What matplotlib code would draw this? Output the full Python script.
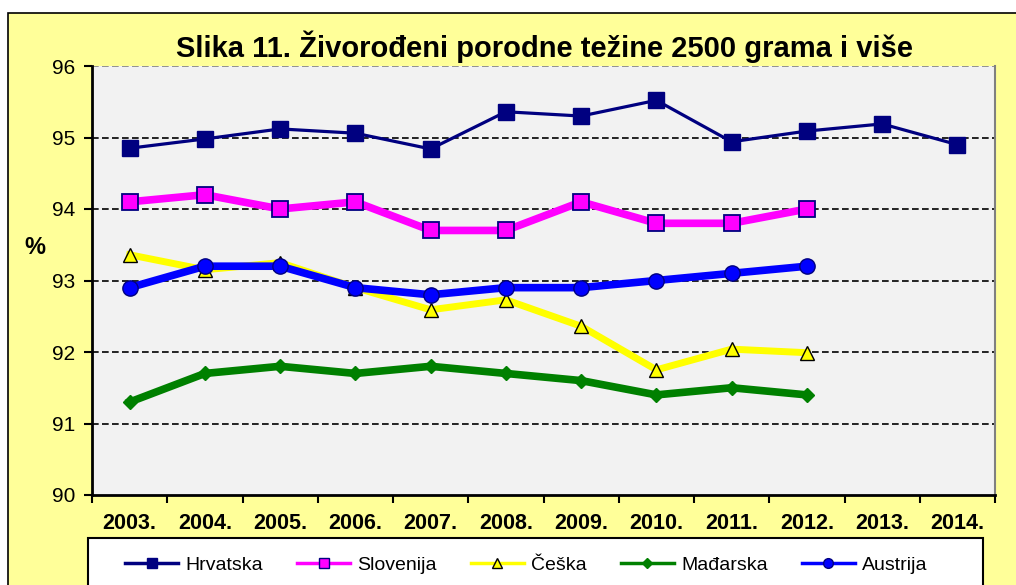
import matplotlib
matplotlib.use("Agg")
import matplotlib.pyplot as plt
from matplotlib.lines import Line2D
from matplotlib.patches import Rectangle
import numpy as np

plt.rcParams['font.family'] = ['Liberation Sans', 'DejaVu Sans']

years = ['2003.', '2004.', '2005.', '2006.', '2007.', '2008.', '2009.', '2010.', '2011.', '2012.', '2013.', '2014.']
hrvatska = [94.85, 94.98, 95.12, 95.06, 94.84, 95.36, 95.30, 95.52, 94.94, 95.09, 95.19, 94.90]
slovenija = [94.1, 94.2, 94.0, 94.1, 93.7, 93.7, 94.1, 93.8, 93.8, 94.0]
ceska = [93.36, 93.15, 93.25, 92.9, 92.59, 92.73, 92.36, 91.75, 92.04, 91.99]
madarska = [91.3, 91.7, 91.8, 91.7, 91.8, 91.7, 91.6, 91.4, 91.5, 91.4]
austrija = [92.9, 93.2, 93.2, 92.9, 92.8, 92.9, 92.9, 93.0, 93.1, 93.2]
yticks = [90, 91, 92, 93, 94, 95, 96]
labels = ['Hrvatska', 'Slovenija', 'Češka', 'Mađarska', 'Austrija']
title = 'Slika 11. Živorođeni porodne težine 2500 grama i više'

W, H = 1016, 585
fig = plt.figure(figsize=(W / 100, H / 100), dpi=100)
fig.patch.set_facecolor('white')

# background (chart area) axes
bg = fig.add_axes([0, 0, 1, 1], zorder=-5)
bg.set_xlim(0, W)
bg.set_ylim(H, 0)
bg.axis('off')
bg.add_patch(Rectangle((8, 13), W + 20, H + 20, facecolor='#FFFF99', edgecolor='black', lw=1.2))
bg.add_patch(Rectangle((88, 538), 983 - 88, H + 20 - 538, facecolor='white', edgecolor='black', lw=1.5))

ax = fig.add_axes([92 / W, 1 - 495 / H, (995 - 92) / W, (495 - 66) / H], zorder=1)
ax.set_facecolor('#F2F2F2')

x = np.arange(len(years))
ax.plot(x[:len(hrvatska)], hrvatska, color='#000080', lw=2.3, marker='s', ms=11,
        mfc='#000080', mec='#000080', zorder=3)
ax.plot(x[:len(slovenija)], slovenija, color='#FF00FF', lw=5.5, marker='s', ms=11,
        mfc='#FF00FF', mec='#000080', mew=1.3, zorder=3)
ax.plot(x[:len(ceska)], ceska, color='#FFFF00', lw=5.0, marker='^', ms=10,
        mfc='#FFFF00', mec='black', mew=1.0, zorder=3)
ax.plot(x[:len(madarska)], madarska, color='#008000', lw=5.5, marker='D', ms=7,
        mfc='#008000', mec='#008000', zorder=3)
ax.plot(x[:len(austrija)], austrija, color='#0000FF', lw=5.5, marker='o', ms=11,
        mfc='#0000FF', mec='#000080', mew=1.0, zorder=3)

ax.set_xlim(-0.5, len(years) - 0.5)
ax.set_ylim(90, 96)
ax.set_yticks(yticks)
ax.set_yticklabels([str(v) for v in yticks], fontsize=15)
ax.set_xticks(x)
ax.set_xticklabels(years, fontsize=15.5, fontweight='bold')
ax.tick_params(axis='x', length=0, pad=13)
ax.set_xticks(np.arange(-0.5, len(years), 1), minor=True)
ax.tick_params(axis='x', which='minor', length=6, width=1.5, direction='out', color='black')
ax.tick_params(axis='y', length=6, width=1.5, direction='out', pad=6)

for v in yticks[1:-1]:
    ax.axhline(v, color='black', lw=1.2, ls=(0, (4, 2)), zorder=1)
ax.axhline(96, color='#808080', lw=1.2, ls=(0, (4, 2)), zorder=1)

ax.spines['left'].set_linewidth(2)
ax.spines['bottom'].set_linewidth(2)
ax.spines['top'].set_visible(False)
ax.spines['right'].set_color('#808080')
ax.spines['right'].set_linewidth(1.5)

ax.set_ylabel('%', fontsize=17, fontweight='bold', rotation=0)
ax.yaxis.set_label_coords(-0.063, 0.55)

fig.text(545 / W, 1 - 47 / H, title, fontsize=21, fontweight='bold', ha='center', va='center')

handles = [
    Line2D([], [], color='#000080', lw=2.5, marker='s', ms=7, mfc='#000080', mec='#000080'),
    Line2D([], [], color='#FF00FF', lw=2.5, marker='s', ms=7, mfc='#FF00FF', mec='#000080'),
    Line2D([], [], color='#FFFF00', lw=2.5, marker='^', ms=7, mfc='#FFFF00', mec='black'),
    Line2D([], [], color='#008000', lw=2.5, marker='D', ms=5, mfc='#008000', mec='#008000'),
    Line2D([], [], color='#0000FF', lw=2.5, marker='o', ms=7, mfc='#0000FF', mec='#000080'),
]
leg = fig.legend(handles, labels, loc='center left', bbox_to_anchor=(125 / W, 1 - 565 / H),
                 ncol=5, fontsize=14, frameon=False, borderpad=0, borderaxespad=0,
                 handlelength=2.75, columnspacing=1.75, handletextpad=0.35)
leg.set_zorder(5)

fig.savefig('out.png', dpi=100, facecolor=fig.get_facecolor())
